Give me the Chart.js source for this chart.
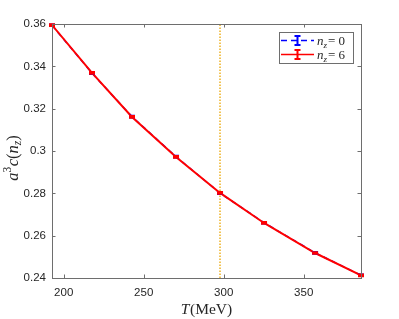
<!DOCTYPE html>
<html>
<head>
<meta charset="utf-8">
<script src="https://cdn.jsdelivr.net/npm/chart.js@4"></script>
<style>
  html, body { margin: 0; padding: 0; background: #fff; }
  #wrap { width: 399px; height: 319px; }
</style>
</head>
<body>
<div id="wrap"><canvas id="chart" width="399" height="319"></canvas></div>
<script>
// Data
const temps = [192.7, 217.7, 242.7, 270.2, 297.7, 325.2, 357.1, 385.8];
const cNz0 = [0.3594, 0.3368, 0.3162, 0.2973, 0.2801, 0.2661, 0.2519, 0.2413];
const cNz6 = [0.3595, 0.3369, 0.3161, 0.2972, 0.2802, 0.2660, 0.2518, 0.2412];
const errNz0 = [0.0004, 0.0004, 0.0004, 0.0004, 0.0004, 0.0004, 0.0004, 0.0004];
const errNz6 = [0.0004, 0.0004, 0.0004, 0.0004, 0.0004, 0.0004, 0.0004, 0.0004];
const tCross = 297.7;
const xTicks = [200, 250, 300, 350];
const yTicks = [0.24, 0.26, 0.28, 0.3, 0.32, 0.34, 0.36];
const yTickLabels = ['0.24', '0.26', '0.28', '0.3', '0.32', '0.34', '0.36'];

const RED = '#ff0000';
const BLUE = '#0000ff';
const ORANGE = '#edb120';
const AXIS = '#6e6e6e';
const TEXT = '#262626';
const SERIF = '"Liberation Serif", "DejaVu Serif", serif';

function pts(xs, ys) {
  return xs.map((x, i) => ({ x: x, y: ys[i] }));
}

// draw a run of styled text pieces, returns width
function drawPieces(ctx, pieces, x, y, measureOnly) {
  let cx = x;
  pieces.forEach(p => {
    ctx.font = (p.italic ? 'italic ' : '') + p.size + 'px ' + SERIF;
    if (!measureOnly) ctx.fillText(p.t, cx, y + (p.dy || 0));
    cx += ctx.measureText(p.t).width + (p.gap || 0);
  });
  return cx - x;
}

const decorPlugin = {
  id: 'decor',
  afterDatasetsDraw(chart) {
    const ctx = chart.ctx;
    const xs = chart.scales.x, ys = chart.scales.y;
    // error bars
    [[cNz0, errNz0, BLUE], [cNz6, errNz6, RED]].forEach(([vals, errs, col]) => {
      ctx.save();
      ctx.strokeStyle = col;
      ctx.lineWidth = 2;
      temps.forEach((t, i) => {
        const px = xs.getPixelForValue(t);
        const y1 = ys.getPixelForValue(vals[i] - errs[i]);
        const y2 = ys.getPixelForValue(vals[i] + errs[i]);
        ctx.beginPath();
        ctx.moveTo(px, y1); ctx.lineTo(px, y2);
        ctx.moveTo(px - 3, y1); ctx.lineTo(px + 3, y1);
        ctx.moveTo(px - 3, y2); ctx.lineTo(px + 3, y2);
        ctx.stroke();
      });
      ctx.restore();
    });
  },
  afterDraw(chart) {
    const ctx = chart.ctx;
    const { left, right, top, bottom } = chart.chartArea;
    const xs = chart.scales.x, ys = chart.scales.y;
    ctx.save();
    // box
    ctx.strokeStyle = AXIS;
    ctx.lineWidth = 1;
    ctx.strokeRect(left + 0.5, top + 0.5, right - left, bottom - top);
    // inward ticks on all four sides
    ctx.beginPath();
    xs.ticks.forEach(t => {
      const px = Math.round(xs.getPixelForValue(t.value)) + 0.5;
      ctx.moveTo(px, bottom); ctx.lineTo(px, bottom - 3.5);
      ctx.moveTo(px, top); ctx.lineTo(px, top + 3.5);
    });
    ys.ticks.forEach(t => {
      const py = Math.round(ys.getPixelForValue(t.value)) + 0.5;
      ctx.moveTo(left, py); ctx.lineTo(left + 3.5, py);
      ctx.moveTo(right, py); ctx.lineTo(right - 3.5, py);
    });
    ctx.stroke();

    // x title: T(MeV)
    ctx.fillStyle = TEXT;
    ctx.textBaseline = 'alphabetic';
    const xt = [
      { t: 'T', italic: true, size: 15.5, gap: 0.5 },
      { t: '(MeV)', italic: false, size: 15.5 }
    ];
    const xw = drawPieces(ctx, xt, 0, 0, true);
    drawPieces(ctx, xt, (left + right) / 2 - xw / 2, 314);

    // y title: a^3 c(n_z), rotated
    const yt = [
      { t: 'a', italic: true, size: 16.5 },
      { t: '3', italic: false, size: 11.5, dy: -7, gap: 0.5 },
      { t: 'c', italic: true, size: 16.5 },
      { t: '(', italic: false, size: 16.5 },
      { t: 'n', italic: true, size: 16.5 },
      { t: 'z', italic: true, size: 11.5, dy: 3 },
      { t: ')', italic: false, size: 16.5 }
    ];
    const yw = drawPieces(ctx, yt, 0, 0, true);
    ctx.save();
    ctx.translate(18, 158);
    ctx.rotate(-Math.PI / 2);
    drawPieces(ctx, yt, -yw / 2, 0);
    ctx.restore();

    // legend
    const lx = 279, ly = 32, lw = 74, lh = 31;
    ctx.fillStyle = '#fff';
    ctx.fillRect(lx, ly, lw, lh);
    ctx.strokeStyle = AXIS;
    ctx.lineWidth = 1;
    ctx.strokeRect(lx + 0.5, ly + 0.5, lw, lh);
    const rows = [
      { col: BLUE, dash: [6, 4], y: 40.5, label: '0' },
      { col: RED, dash: [], y: 54.5, label: '6' }
    ];
    rows.forEach(r => {
      ctx.strokeStyle = r.col;
      ctx.lineWidth = 1.5;
      ctx.setLineDash(r.dash);
      ctx.beginPath();
      ctx.moveTo(281, r.y); ctx.lineTo(314, r.y);
      ctx.stroke();
      ctx.setLineDash([]);
      ctx.lineWidth = 2;
      ctx.beginPath();
      ctx.moveTo(297.5, r.y - 4.5); ctx.lineTo(297.5, r.y + 4.5);
      ctx.moveTo(294.5, r.y - 4.5); ctx.lineTo(300.5, r.y - 4.5);
      ctx.moveTo(294.5, r.y + 4.5); ctx.lineTo(300.5, r.y + 4.5);
      ctx.stroke();
      ctx.fillStyle = TEXT;
      drawPieces(ctx, [
        { t: 'n', italic: true, size: 13 },
        { t: 'z', italic: true, size: 9, dy: 2.5, gap: 1 },
        { t: '= ' + r.label, italic: false, size: 13 }
      ], 317, r.y + 4.5);
    });
    ctx.restore();
  }
};

new Chart(document.getElementById('chart'), {
  type: 'line',
  data: {
    datasets: [
      {
        label: 'nz = 6',
        data: pts(temps, cNz6),
        borderColor: RED,
        backgroundColor: RED,
        borderWidth: 2,
        pointRadius: 0,
        order: 1
      },
      {
        label: 'nz = 0',
        data: pts(temps, cNz0),
        borderColor: BLUE,
        backgroundColor: BLUE,
        borderWidth: 1.5,
        borderDash: [5, 4],
        pointRadius: 0,
        order: 2
      },
      {
        label: 'T cross',
        data: [{ x: tCross, y: yTicks[0] }, { x: tCross, y: yTicks[yTicks.length - 1] }],
        borderColor: ORANGE,
        borderWidth: 1.5,
        borderDash: [1.5, 1.5],
        pointRadius: 0,
        order: 0
      }
    ]
  },
  options: {
    responsive: false,
    animation: false,
    layout: { padding: { left: 0, right: 38, top: 24, bottom: 0 } },
    plugins: {
      legend: { display: false },
      tooltip: { enabled: false }
    },
    scales: {
      x: {
        type: 'linear',
        min: temps[0],
        max: temps[temps.length - 1],
        afterBuildTicks: s => { s.ticks = xTicks.map(v => ({ value: v })); },
        afterFit: s => { s.height = 41; },
        grid: { display: false, drawTicks: false },
        border: { display: false },
        ticks: {
          color: TEXT,
          padding: 8,
          maxRotation: 0,
          font: { family: '"Liberation Sans", Arial, sans-serif', size: 11.5 }
        }
      },
      y: {
        type: 'linear',
        min: yTicks[0],
        max: yTicks[yTicks.length - 1],
        afterBuildTicks: s => { s.ticks = yTicks.map(v => ({ value: v })); },
        afterFit: s => { s.width = 52; },
        grid: { display: false, drawTicks: false },
        border: { display: false },
        ticks: {
          color: TEXT,
          padding: 6,
          callback: (v, i) => yTickLabels[i],
          font: { family: '"Liberation Sans", Arial, sans-serif', size: 11.5 }
        }
      }
    }
  },
  plugins: [decorPlugin]
});
</script>
</body>
</html>
